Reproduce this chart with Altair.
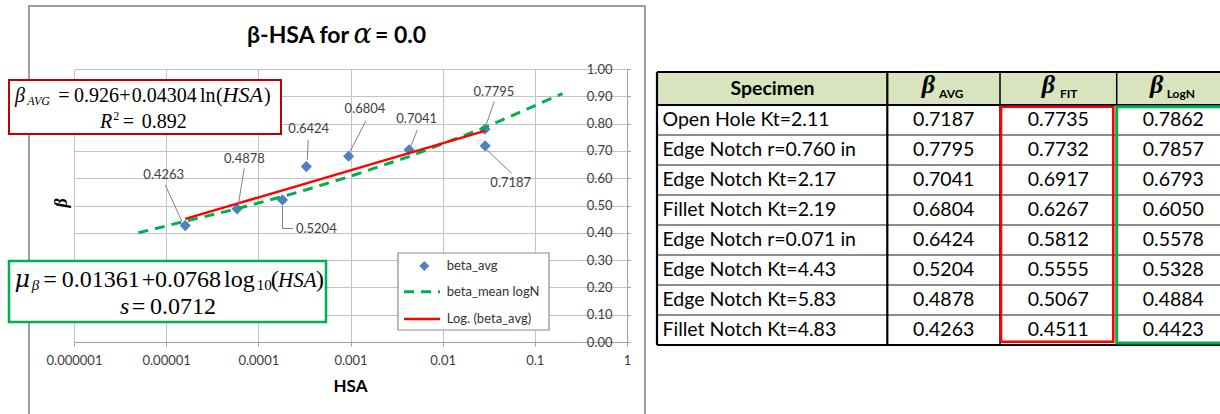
import altair as alt
import pandas as pd

# ---- specimen results -------------------------------------------------------
specimens = ["Open Hole Kt=2.11", "Edge Notch r=0.760 in", "Edge Notch Kt=2.17",
             "Fillet Notch Kt=2.19", "Edge Notch r=0.071 in", "Edge Notch Kt=4.43",
             "Edge Notch Kt=5.83", "Fillet Notch Kt=4.83"]
hsa = [0.0289, 0.0287, 0.00432, 0.000954, 0.000332, 0.000183, 0.0000589, 0.0000161]
beta_avg = [0.7187, 0.7795, 0.7041, 0.6804, 0.6424, 0.5204, 0.4878, 0.4263]
beta_fit = [0.7735, 0.7732, 0.6917, 0.6267, 0.5812, 0.5555, 0.5067, 0.4511]
beta_logn = [0.7862, 0.7857, 0.6793, 0.6050, 0.5578, 0.5328, 0.4884, 0.4423]

# the beta_mean logN curve runs a little past the specimens at both ends
logn_end_hsa = [0.000005, 0.2]
logn_end_beta = [0.40, 0.91]

x_ticks = [0.000001, 0.00001, 0.0001, 0.001, 0.01, 0.1, 1]
y_ticks = [0.0, 0.1, 0.2, 0.3, 0.4, 0.5, 0.6, 0.7, 0.8, 0.9, 1.0]

# ---- plot geometry (pixels) -------------------------------------------------
PLOT_W, PLOT_H = 553, 273
PAD = {"left": 74, "top": 69, "right": 1220 - 74 - PLOT_W, "bottom": 414 - 69 - PLOT_H}

SANS = "Lato"
SERIF = "Liberation Serif"
GREEK = "DejaVu Serif"
GRID = "#c3c3c3"
AXIS_GREY = "#a0a0a0"
LABEL_GREY = "#3c3c3c"
BLUE = "#4F81BD"
GREEN = "#00B050"
RED = "#FF0000"
DARK_RED = "#C00000"

points_df = pd.DataFrame({"specimen": specimens, "hsa": hsa, "beta": beta_avg})
points_df["label"] = [f"{v:.4f}" for v in beta_avg]
fit_df = pd.DataFrame({"hsa": hsa, "beta": beta_fit}).sort_values("hsa")
logn_df = pd.DataFrame({"hsa": hsa + logn_end_hsa,
                        "beta": beta_logn + logn_end_beta}).sort_values("hsa")

xscale = alt.Scale(type="log", domain=[x_ticks[0], x_ticks[-1]], nice=False)
yscale = alt.Scale(domain=[0, 1], nice=False, zero=False)
x_axis = alt.Axis(values=x_ticks, format="~f", title=None, grid=True, gridColor=GRID,
                  domainColor=AXIS_GREY, tickColor=AXIS_GREY, tickSize=4,
                  labelFont=SANS, labelFontSize=13, labelColor=LABEL_GREY,
                  labelPadding=8, labelFlush=False, labelOverlap=False)
y_axis = alt.Axis(orient="right", values=y_ticks, format=".2f", title=None, grid=True,
                  gridColor=GRID, domainColor=AXIS_GREY, tickColor=AXIS_GREY, tickSize=3,
                  labelAlign="right", labelPadding=-18, labelBaseline="middle",
                  labelFont=SANS, labelFontSize=13, labelColor=LABEL_GREY,
                  labelFlush=False, labelOverlap=False)
X = alt.X("hsa:Q", scale=xscale, axis=x_axis)
Y = alt.Y("beta:Q", scale=yscale, axis=y_axis)

points = alt.Chart(points_df).mark_point(shape="diamond", filled=True, size=125,
                                         color=BLUE, opacity=1).encode(x=X, y=Y)
logn_line = alt.Chart(logn_df).mark_line(color=GREEN, strokeWidth=3,
                                         strokeDash=[10, 7]).encode(x=X, y=Y)
fit_line = alt.Chart(fit_df).mark_line(color=RED, strokeWidth=2.5).encode(x=X, y=Y)

# data-label callouts: label centre offset from its diamond, and leader segments
label_place = {
    "0.4263": (-21.5, -50.6), "0.4878": (7.3, -49.5), "0.5204": (33.8, 29.4),
    "0.6424": (2.4, -37.3), "0.6804": (16.4, -47.0), "0.7041": (7.6, -30.5),
    "0.7795": (9.1, -37.5), "0.7187": (25.6, 36.9),
}
leaders = {
    "0.4263": [(-20, -40.6, -3.2, -4)],
    "0.4878": [(7.1, -40.5, 1.3, -4.8)],
    "0.5204": [(0, 6, 0, 28.6), (0, 28.6, 10.5, 28.6)],
    "0.6424": [(1.9, -26.6, 0.9, -6.6)],
    "0.6804": [(17.4, -35.6, 1.4, -4.6)],
    "0.7041": [(8.2, -19.8, 1.6, -3.1)],
    "0.7795": [(9.4, -27.5, 0.6, -2.5)],
    "0.7187": [(1.8, 4.2, 26.5, 27.5)],
}
callouts = []
for lab, (dx, dy) in label_place.items():
    row = points_df[points_df["label"] == lab]
    for (a, b, c, d) in leaders[lab]:
        callouts.append(alt.Chart(row).mark_rule(color="#7f7f7f", strokeWidth=1,
                                                 xOffset=a, yOffset=b, x2Offset=c,
                                                 y2Offset=d)
                        .encode(x=X, y=Y, x2="hsa:Q", y2="beta:Q"))
    callouts.append(alt.Chart(row).mark_text(dx=dx, dy=dy, font=SANS, fontSize=13,
                                             color="#404040", baseline="middle")
                    .encode(x=X, y=Y, text="label:N"))

plot = alt.layer(points, logn_line, fit_line, *callouts)

# ---- decorations placed in plot pixels ---------------------------------------
ONE = alt.Data(values=[{"k": 0}])


def txt(text, x, y, size, font=SANS, style="normal", weight="normal", align="left",
        baseline="alphabetic", color="black", angle=0):
    props = dict(text=text, font=font, fontSize=size, fontStyle=style, fontWeight=weight,
                 align=align, baseline=baseline, color=color)
    if angle:
        props["angle"] = angle
    return alt.Chart(ONE).mark_text(**props).encode(x=alt.value(x), y=alt.value(y))


def box(x1, y1, x2, y2, stroke, width, fill="white", fill_opacity=1):
    return alt.Chart(ONE).mark_rect(fill=fill, fillOpacity=fill_opacity, stroke=stroke,
                                    strokeWidth=width).encode(
        x=alt.value(x1), x2=alt.value(x2), y=alt.value(y1), y2=alt.value(y2))


def hline(x1, x2, y, color, width, dash=None):
    props = dict(color=color, strokeWidth=width)
    if dash:
        props["strokeDash"] = dash
    return alt.Chart(ONE).mark_rule(**props).encode(
        x=alt.value(x1), x2=alt.value(x2), y=alt.value(y))


def equation(pieces):
    """Typeset a formula from (text, left x, baseline y, size, italic, font) pieces."""
    return [txt(t, x, y, s, font=f, style="italic" if it else "normal")
            for t, x, y, s, it, f in pieces]


frame = box(-45, -63, 571, 352, "#7f7f7f", 1.5, fill_opacity=0)

title = [
    txt("β-HSA for", 173, -26, 23, weight="bold"),
    txt("α", 279.5, -26, 27, font=GREEK, style="italic"),
    txt("= 0.0", 301, -26, 23, weight="bold"),
]
axis_titles = [
    txt("HSA", 276.5, 317.5, 17, weight="bold", align="center", baseline="middle"),
    txt("β", -12, 134, 18, font=SERIF, style="italic", weight="bold", align="center",
        baseline="middle", angle=270),
]

# logarithmic trend equation
R_Y1, R_Y2 = 32.7, 59.3
red_eq = [box(-65, 11, 207, 65, DARK_RED, 2)] + equation([
    ("β", -59, R_Y1, 20, True, SERIF), ("AVG", -46.7, R_Y1 + 3.3, 12, True, SERIF),
    ("=", -15.7, R_Y1, 20, False, SERIF), ("0.926", 0, R_Y1, 20, False, SERIF),
    ("+", 45.3, R_Y1, 20, False, SERIF), ("0.04304", 57.7, R_Y1, 20, False, SERIF),
    ("ln", 126, R_Y1, 20, False, SERIF), ("(", 142, R_Y1, 20, False, SERIF),
    ("HSA", 148.5, R_Y1, 22, True, SERIF), (")", 190, R_Y1, 20, False, SERIF),
    ("R", 26, R_Y2, 20, True, SERIF), ("2", 39.3, 51, 12, False, SERIF),
    ("=", 48.7, R_Y2, 20, False, SERIF), ("0.892", 67.7, R_Y2, 20, False, SERIF),
])

# log-normal mean equation
G_Y1, G_Y2 = 217.7, 245.3
green_eq = [box(-65, 192, 252, 253, GREEN, 2.5)] + equation([
    ("μ", -59.5, G_Y1, 24, True, GREEK), ("β", -42.3, G_Y1 + 3.5, 15, True, SERIF),
    ("=", -30.7, G_Y1, 24, False, SERIF), ("0.01361", -12.3, G_Y1, 24, False, SERIF),
    ("+", 67.7, G_Y1, 24, False, SERIF), ("0.0768", 81, G_Y1, 24, False, SERIF),
    ("log", 150, G_Y1, 24, False, SERIF), ("10", 182.7, G_Y1 + 3.5, 15, False, SERIF),
    ("(", 196.7, G_Y1, 24, False, SERIF), ("HSA", 204, G_Y1, 21, True, SERIF),
    (")", 242, G_Y1, 24, False, SERIF),
    ("s", 46, G_Y2, 24, True, SERIF), ("=", 57.7, G_Y2, 24, False, SERIF),
    ("0.0712", 76, G_Y2, 24, False, SERIF),
])

legend = [
    box(324, 184, 475, 261, "#8c8c8c", 1.2),
    alt.Chart(ONE).mark_point(shape="diamond", filled=True, size=100, color=BLUE,
                              opacity=1).encode(x=alt.value(350.3), y=alt.value(197)),
    hline(330, 366, 222.7, GREEN, 3, dash=[10, 7]),
    hline(330, 366, 250, RED, 2.5),
    txt("beta_avg", 372.7, 197, 13, baseline="middle", color="#333333"),
    txt("beta_mean logN", 372.7, 223, 13, baseline="middle", color="#333333"),
    txt("Log. (beta_avg)", 372.7, 250, 13, baseline="middle", color="#333333"),
]

# ---- specimen table ---------------------------------------------------------
COL_EDGES = [0, 230.3, 343, 459.7, 580]
COL_CENTRES = [286.7, 401.3, 516.3]
tx = alt.Scale(domain=[0, 563], range=[583, 1146])
ty = alt.Scale(domain=[-1.1, 8], range=[3, 276])
n_rows = len(specimens)


def TXc(f):
    return alt.X(f"{f}:Q", scale=tx, axis=None)


def TYc(f):
    return alt.Y(f"{f}:Q", scale=ty, axis=None)


def trect(df, **mark):
    return alt.Chart(df).mark_rect(**mark).encode(x=TXc("x0"), x2="x1:Q",
                                                  y=TYc("y0"), y2="y1:Q")


def trule(df, **mark):
    return alt.Chart(df).mark_rule(**mark).encode(x=TXc("x0"), x2="x1:Q",
                                                  y=TYc("y0"), y2="y1:Q")


header_fill = trect(pd.DataFrame([dict(x0=0, x1=COL_EDGES[-1], y0=-1.1, y1=0)]),
                    fill="#D7E4BD")
row_lines = trule(pd.DataFrame([dict(x0=0, x1=COL_EDGES[-1], y0=r, y1=r)
                                for r in range(1, n_rows)]), color="#1a1a1a", strokeWidth=1)
heavy_h = trule(pd.DataFrame([dict(x0=0, x1=COL_EDGES[-1], y0=r, y1=r) for r in (-1.1, 0, n_rows)]),
                color="black", strokeWidth=2.2)
col_lines = trule(pd.DataFrame([dict(x0=c, x1=c, y0=-1.1, y1=n_rows) for c in COL_EDGES[2:4]]),
                  color="black", strokeWidth=1.5)
heavy_v = trule(pd.DataFrame([dict(x0=c, x1=c, y0=-1.1, y1=n_rows) for c in COL_EDGES[:2]]),
                color="black", strokeWidth=2.2)
fit_box = trect(pd.DataFrame([dict(x0=344, x1=456.3, y0=0.06, y1=7.89)]),
                fillOpacity=0, stroke=RED, strokeWidth=2.6)
logn_box = trect(pd.DataFrame([dict(x0=459.7, x1=590, y0=0.06, y1=7.93)]),
                 fillOpacity=0, stroke=GREEN, strokeWidth=3)

name_df = pd.DataFrame({"x": 5.5, "y": [i + 0.5 for i in range(n_rows)], "text": specimens})
num_rows = []
for xc, vals in zip(COL_CENTRES, [beta_avg, beta_fit, beta_logn]):
    for i, v in enumerate(vals):
        num_rows.append(dict(x=xc, y=i + 0.5, text=f"{v:.4f}"))
num_df = pd.DataFrame(num_rows)

names = alt.Chart(name_df).mark_text(font=SANS, fontSize=19.5, align="left", baseline="middle",
                                     color="black").encode(x=TXc("x"), y=TYc("y"), text="text:N")
nums = alt.Chart(num_df).mark_text(font=SANS, fontSize=19.5, align="center", baseline="middle",
                                   color="black").encode(x=TXc("x"), y=TYc("y"), text="text:N")

head_df = pd.DataFrame([dict(x=115.5, y=-0.55, text="Specimen")])
head = alt.Chart(head_df).mark_text(font=SANS, fontSize=19.5, fontWeight="bold", align="center",
                                    baseline="middle", color="black").encode(
    x=TXc("x"), y=TYc("y"), text="text:N")
beta_df = pd.DataFrame([dict(x=x, y=-0.4, text="β") for x in (264.7, 384.7, 493)])
beta_sym = alt.Chart(beta_df).mark_text(font=SERIF, fontSize=26, fontStyle="italic",
                                        fontWeight="bold", align="left", baseline="alphabetic",
                                        color="black").encode(x=TXc("x"), y=TYc("y"), text="text:N")
sub_df = pd.DataFrame([dict(x=282, y=-0.24, text="AVG"), dict(x=403, y=-0.24, text="FIT"),
                       dict(x=509.7, y=-0.24, text="LogN")])
beta_sub = alt.Chart(sub_df).mark_text(font=SANS, fontSize=12, fontWeight="bold", align="left",
                                       baseline="alphabetic", color="black").encode(
    x=TXc("x"), y=TYc("y"), text="text:N")

table = alt.layer(header_fill, row_lines, heavy_h, col_lines, heavy_v, names, nums, head,
                  beta_sym, beta_sub, fit_box, logn_box)

chart = alt.layer(
    frame, plot, *legend, *red_eq, *green_eq, *title, *axis_titles, table
).resolve_scale(x="independent", y="independent").properties(
    width=PLOT_W, height=PLOT_H, padding=PAD, autosize=alt.AutoSizeParams(type="none"),
    background="white",
).configure_view(strokeWidth=0)

chart.save("out.html", embed_options={"renderer": "svg", "actions": False})
